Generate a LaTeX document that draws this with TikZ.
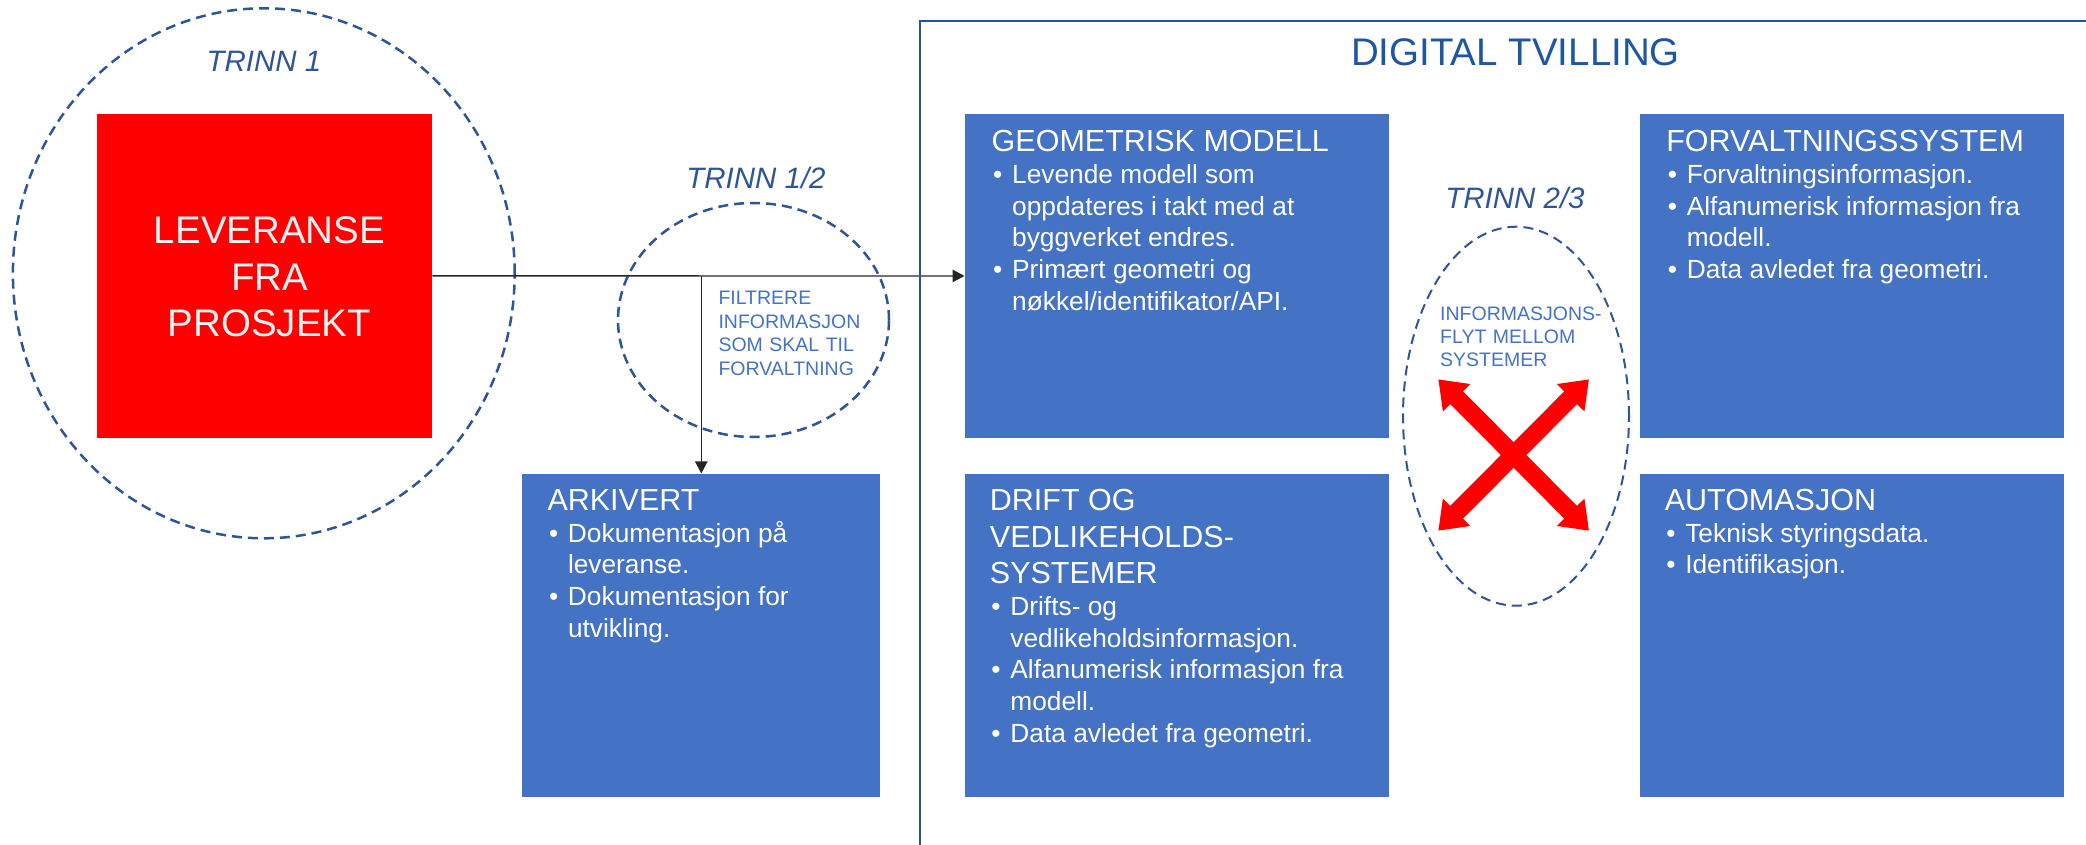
\documentclass[tikz,border=0pt]{standalone}
\usepackage{fontspec}
\setmainfont{Liberation Sans}
\usepackage{xcolor}
\usepackage{tikz}
\usetikzlibrary{positioning,calc,arrows.meta}

\definecolor{boxblue}{HTML}{4472C4}
\definecolor{stageblue}{HTML}{2F5597}
\definecolor{frameblue}{HTML}{1F56A3}
\definecolor{levred}{HTML}{FF0000}

\newcommand{\boxhead}{\fontsize{30.5}{36.7}\selectfont\spaceskip=0pt\xspaceskip=0pt}
\newcommand{\boxbody}{\fontsize{26.3}{31.7}\selectfont\spaceskip=0pt\xspaceskip=0pt}
\newcommand{\nl}{\hfil\break}
\newcommand{\nlb}{\hfil\break\hspace*{20.5pt}}
\newcommand{\bul}{\par\noindent\hbox to 20.5pt{\hspace{1.5pt}\textbullet\hfil}}

\begin{document}
\begin{tikzpicture}[x=1pt, y=-1pt,
    blbox/.style={fill=boxblue, inner sep=0pt, anchor=north west, minimum width=424pt, minimum height=323.5pt},
    boxtxt/.style={anchor=base west, text width=420pt, inner sep=0pt, text=white, font=\boxbody},
    stage/.style={draw=stageblue, line width=2.5pt, dash pattern=on 10pt off 6pt},
    stagelabel/.style={anchor=base, inner sep=0pt, text=stageblue, font=\fontsize{29.5}{35}\selectfont\itshape},
    note/.style={anchor=base west, text width=220pt, inner sep=0pt, text=boxblue, font=\fontsize{19.5}{23.5}\selectfont},
    conn/.style={draw=black!85, line width=1.3pt, -{Triangle[length=12pt,width=12.5pt]}},
    flow/.style={draw=levred, line width=18pt, {Triangle[length=26pt,width=37pt]}-{Triangle[length=26pt,width=37pt]}}]
    \useasboundingbox (0,0) rectangle (2086,845);

    % Stages
    \draw[stage] (263.8,273.3) ellipse [x radius=250.9pt, y radius=265pt];
    \draw[stage] (753.5,320) ellipse [x radius=135.5pt, y radius=117pt];
    \draw[stage, line width=2pt] (1516,416.2) ellipse [x radius=113pt, y radius=189.5pt];
    \node[stagelabel] (trinn1) at (264,71.7) {TRINN 1};
    \node[stagelabel] (trinn12) at (756,188.3) {TRINN 1/2};
    \node[stagelabel] (trinn23) at (1515,208.3) {TRINN 2/3};

    % Delivery
    \node[fill=levred, inner sep=0pt, anchor=north west, minimum width=335pt, minimum height=323.3pt] (lev) at (97,114) {};
    \node[anchor=base, text width=335pt, align=center, inner sep=0pt, text=white!95!black,
        font=\fontsize{38.5}{46.8}\selectfont] (lev-txt) at (269.5,243.3) {LEVERANSE\\FRA\\PROSJEKT};

    % Boxes
    \node[blbox] (geo) at (964.5,114) {};
    \node[blbox, right=250.5pt of geo] (forv) {};
    \node[blbox, below=35.5pt of geo] (drift) {};
    \node[blbox, below=35.5pt of forv] (auto) {};
    \node[blbox, minimum width=358pt, left=84pt of drift] (ark) {};

    \node[boxtxt] (geo-txt) at ([xshift=27pt,yshift=-37.7pt]geo.north west)
        {{\boxhead GEOMETRISK MODELL\par}\boxbody
         \bul Levende modell som\nlb oppdateres i takt med at\nlb byggverket endres.
         \bul Primært geometri og\nlb nøkkel/identifikator/API.};
    \node[boxtxt] (forv-txt) at ([xshift=26.7pt,yshift=-37.7pt]forv.north west)
        {{\boxhead FORVALTNINGSSYSTEM\par}\boxbody
         \bul Forvaltningsinformasjon.
         \bul Alfanumerisk informasjon fra\nlb modell.
         \bul Data avledet fra geometri.};
    \node[boxtxt] (ark-txt) at ([xshift=25.2pt,yshift=-37pt]ark.north west)
        {{\boxhead ARKIVERT\par}\boxbody
         \bul Dokumentasjon på\nlb leveranse.
         \bul Dokumentasjon for\nlb utvikling.};
    \node[boxtxt] (drift-txt) at ([xshift=25.2pt,yshift=-37pt]drift.north west)
        {{\boxhead DRIFT OG\nl VEDLIKEHOLDS-\nl SYSTEMER\par}\boxbody
         \bul Drifts- og\nlb vedlikeholdsinformasjon.
         \bul Alfanumerisk informasjon fra\nlb modell.
         \bul Data avledet fra geometri.};
    \node[boxtxt] (auto-txt) at ([xshift=25.2pt,yshift=-37pt]auto.north west)
        {{\boxhead AUTOMASJON\par}\boxbody
         \bul Teknisk styringsdata.
         \bul Identifikasjon.};

    % Notes
    \node[note] (filter) at (718.3,305) {FILTRERE\nl INFORMASJON\nl SOM SKAL TIL\nl FORVALTNING};
    \node[note, font=\fontsize{19.5}{23}\selectfont] (infoflyt) at (1440,320) {INFORMASJONS-\nl FLYT MELLOM\nl SYSTEMER};

    % Connectors
    \draw[conn] (lev.east) -- (geo.west);
    \draw[conn] (lev.east -| ark.north) -- (ark.north);

    % Flow between systems
    \coordinate (fl-nw) at (1438.3,379.3);
    \coordinate (fl-ne) at (1589,379.3);
    \coordinate (fl-sw) at (1438.3,530.7);
    \coordinate (fl-se) at (1589,530.7);
    \draw[flow] (fl-nw) -- (fl-se);
    \draw[flow] (fl-ne) -- (fl-sw);

    % Digital twin frame
    \draw[draw=frameblue, line width=2pt] (920,845) -- (920,20.7) -- (2086,20.7);
    \node[anchor=base, inner sep=0pt, text=frameblue, font=\fontsize{38.5}{46}\selectfont] (twin) at (1515.5,66) {DIGITAL TVILLING};
\end{tikzpicture}
\end{document}
